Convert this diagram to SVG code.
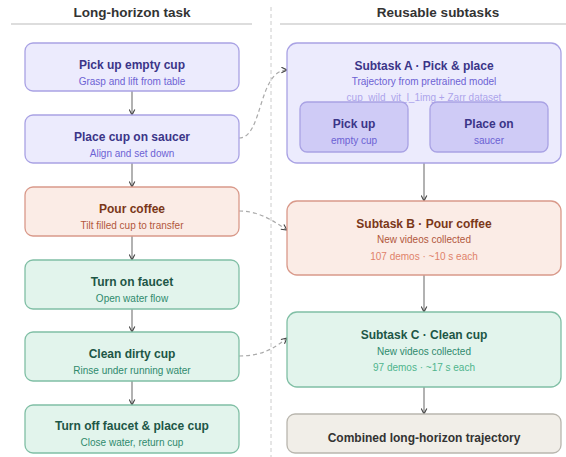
<svg xmlns="http://www.w3.org/2000/svg" width="566" height="457" viewBox="0 0 566 457">
<defs>
<marker id="ah" viewBox="0 0 10 10" refX="9" refY="5" markerWidth="7" markerHeight="7" orient="auto" markerUnits="userSpaceOnUse">
<path d="M1,1 L9,5 L1,9" fill="none" stroke="#444" stroke-width="1.6"/>
</marker>
<style>
text{font-family:"Liberation Sans",Arial,sans-serif;text-anchor:middle}
.hd{font-size:13.5px;font-weight:bold;fill:#333}
.t{font-size:12px;font-weight:bold}
.s{font-size:10px}
.pu rect{fill:#ecebfd;stroke:#a9a2e4;stroke-width:1.3}
.pu .t{fill:#3b3588}
.pu .s{fill:#6c62d4}
.in rect{fill:#cfcbf6;stroke:#a9a2e4}
.or rect{fill:#fbece6;stroke:#d9998a;stroke-width:1.3}
.or .t{fill:#7a3719}
.or .s{fill:#b2573c}
.gr rect{fill:#e2f4ec;stroke:#80bfa5;stroke-width:1.3}
.gr .t{fill:#1d5646}
.gr .s{fill:#2f8a6c}
.gy rect{fill:#f1eee8;stroke:#b9b6ae;stroke-width:1.3}
.gy .t{fill:#333}
.ln{fill:none;stroke:#999;stroke-width:1.5}
.dl{fill:none;stroke:#aaa;stroke-width:1.2;stroke-dasharray:4 3}
</style>
</defs>
<rect width="566" height="457" fill="#fff"/>
<g id="headers">
<text class="hd" x="132" y="17">Long-horizon task</text>
<text class="hd" x="438" y="17">Reusable subtasks</text>
<line x1="11" y1="24" x2="252" y2="24" stroke="#ddd" stroke-width="2"/>
<line x1="280" y1="24" x2="566" y2="24" stroke="#ddd" stroke-width="2"/>
<line x1="271" y1="7" x2="271" y2="457" stroke="#ccc" stroke-width="1" stroke-dasharray="4 3"/>
</g>
<g id="connectors">
<path class="ln" d="M132,91 V115" marker-end="url(#ah)"/>
<path class="ln" d="M132,163 V187" marker-end="url(#ah)"/>
<path class="ln" d="M132,236 V260" marker-end="url(#ah)"/>
<path class="ln" d="M132,309 V332" marker-end="url(#ah)"/>
<path class="ln" d="M132,381 V405" marker-end="url(#ah)"/>
<path class="ln" d="M424,163 V201" marker-end="url(#ah)"/>
<path class="ln" d="M424,275 V312" marker-end="url(#ah)"/>
<path class="ln" d="M424,387 V414" marker-end="url(#ah)"/>
<path class="ln" d="M408,127 H430" stroke="#6c62d4" marker-end="url(#ah)"/>
<path class="dl" d="M239,138 C263,138 258,70 287,70" marker-end="url(#ah)"/>
<path class="dl" d="M239,211 C260,211 275,222 287,230" marker-end="url(#ah)"/>
<path class="dl" d="M239,356 C262,356 275,348 287,338" marker-end="url(#ah)"/>
</g>
<g id="l1" class="pu"><rect x="25" y="43" width="214" height="48" rx="8"/><text class="t" x="132" y="69">Pick up empty cup</text><text class="s" x="132" y="85">Grasp and lift from table</text></g>
<g id="l2" class="pu"><rect x="25" y="115" width="214" height="48" rx="8"/><text class="t" x="132" y="141">Place cup on saucer</text><text class="s" x="132" y="157">Align and set down</text></g>
<g id="l3" class="or"><rect x="25" y="187" width="214" height="49" rx="8"/><text class="t" x="132" y="213">Pour coffee</text><text class="s" x="132" y="229">Tilt filled cup to transfer</text></g>
<g id="l4" class="gr"><rect x="25" y="260" width="214" height="49" rx="8"/><text class="t" x="132" y="286">Turn on faucet</text><text class="s" x="132" y="302">Open water flow</text></g>
<g id="l5" class="gr"><rect x="25" y="332" width="214" height="49" rx="8"/><text class="t" x="132" y="358">Clean dirty cup</text><text class="s" x="132" y="374">Rinse under running water</text></g>
<g id="l6" class="gr"><rect x="25" y="405" width="214" height="48" rx="8"/><text class="t" x="132" y="430">Turn off faucet &amp; place cup</text><text class="s" x="132" y="446">Close water, return cup</text></g>
<g id="sa" class="pu"><rect x="287" y="43" width="274" height="120" rx="10"/><text class="t" x="424" y="70">Subtask A · Pick &amp; place</text><text class="s" x="424" y="85">Trajectory from pretrained model</text><text class="s" x="424" y="101" fill="#aaa3ec" style="fill:#aca5ec">cup_wild_vit_l_1img + Zarr dataset</text></g>
<g id="sa1" class="pu in"><rect x="300" y="102" width="108" height="50" rx="7"/><text class="t" x="354" y="128">Pick up</text><text class="s" x="354" y="144">empty cup</text></g>
<g id="sa2" class="pu in"><rect x="430" y="102" width="118" height="50" rx="7"/><text class="t" x="489" y="128">Place on</text><text class="s" x="489" y="144">saucer</text></g>
<g id="sb" class="or"><rect x="287" y="201" width="274" height="74" rx="10"/><text class="t" x="424" y="228">Subtask B · Pour coffee</text><text class="s" x="424" y="243">New videos collected</text><text class="s" x="424" y="260" style="fill:#e0826a">107 demos · ~10 s each</text></g>
<g id="sc" class="gr"><rect x="287" y="312" width="274" height="75" rx="10"/><text class="t" x="424" y="339">Subtask C · Clean cup</text><text class="s" x="424" y="355">New videos collected</text><text class="s" x="424" y="371" style="fill:#4fb48d">97 demos · ~17 s each</text></g>
<g id="cb" class="gy"><rect x="287" y="414" width="274" height="39" rx="8"/><text class="t" x="424" y="442">Combined long-horizon trajectory</text></g>
</svg>
